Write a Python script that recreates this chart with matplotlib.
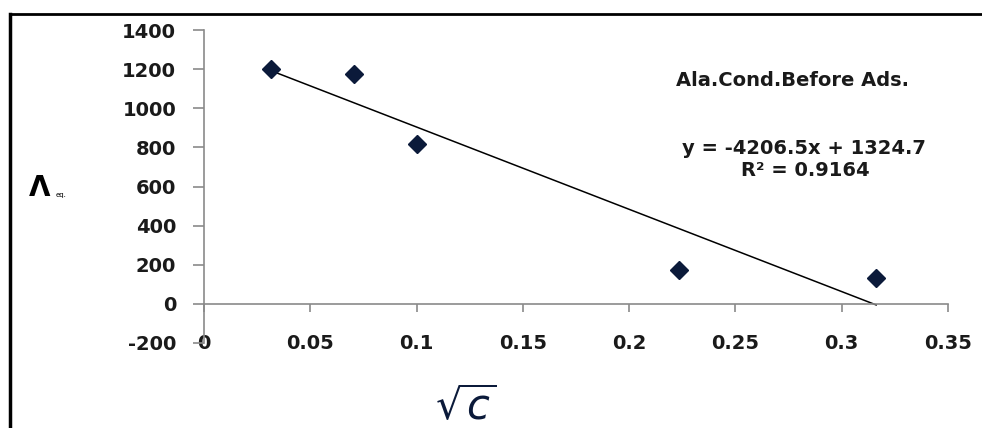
import numpy as np
import matplotlib
matplotlib.use("Agg")
import matplotlib.pyplot as plt
from matplotlib.lines import Line2D

plt.rcParams['font.family'] = ['DejaVu Sans']
plt.rcParams['axes.unicode_minus'] = False

# sqrt of concentration and equivalent conductance
sqrt_c = [0.0316, 0.0707, 0.1, 0.2236, 0.3162]
lam_eq = [1200, 1175, 815, 175, 130]

slope = -4206.5
intercept = 1324.7
r2 = 0.9164

x_ticks = [0, 0.05, 0.1, 0.15, 0.2, 0.25, 0.3, 0.35]
x_labels = ['0', '0.05', '0.1', '0.15', '0.2', '0.25', '0.3', '0.35']
y_ticks = [-200, 0, 200, 400, 600, 800, 1000, 1200, 1400]

fig = plt.figure(figsize=(9.82, 4.28), dpi=100)
ax = fig.add_axes([0.2077, 0.1986, 0.7577, 0.7313])

ax.plot(sqrt_c, lam_eq, linestyle='none', marker='D', markersize=9,
        color='#0b1a3a', zorder=3)

xs = np.array([sqrt_c[0], sqrt_c[-1]])
ax.plot(xs, slope * xs + intercept, color='black', linewidth=1.1, zorder=2)

ax.set_xlim(0, 0.35)
ax.set_ylim(-200, 1400)
ax.set_xticks(x_ticks)
ax.set_xticklabels(x_labels)
ax.set_yticks(y_ticks)

ax.spines['top'].set_visible(False)
ax.spines['right'].set_visible(False)
ax.spines['bottom'].set_position(('data', 0))
for s in ('left', 'bottom'):
    ax.spines[s].set_color('#8a8a8a')
    ax.spines[s].set_linewidth(1.2)

ax.tick_params(axis='x', direction='out', length=6, width=1.2, color='#8a8a8a',
               pad=16, labelsize=14, labelcolor='#1a1a1a')
ax.tick_params(axis='y', direction='out', length=8, width=1.2, color='#8a8a8a',
               pad=12, labelsize=14, labelcolor='#1a1a1a')
for lab in ax.get_xticklabels() + ax.get_yticklabels():
    lab.set_fontweight('bold')

txt = dict(ha='center', va='center', fontsize=14, fontweight='bold', color='#1a1a1a')
fig.text(792 / 982, 1 - 80 / 428, 'Ala.Cond.Before Ads.', **txt)
fig.text(804 / 982, 1 - 149 / 428, f'y = {slope}x + {intercept}', **txt)
fig.text(805 / 982, 1 - 171 / 428, f'R² = {r2}', **txt)

# axis titles
fig.text(40 / 982, 1 - 188 / 428, 'Λ', ha='center', va='center',
         fontsize=20, fontweight='bold', color='black')
fig.text(61 / 982, 1 - 195 / 428, 'eq.', ha='center', va='center',
         fontsize=5, color='black')
fig.text(466 / 982, 1 - 408 / 428, r'$\sqrt{c}$', ha='center', va='center',
         fontsize=30, color='#0b1a3a')

# outer frame lines (top and left)
fig.add_artist(Line2D([10 / 982, 1], [1 - 14 / 428, 1 - 14 / 428],
                      color='black', linewidth=2, transform=fig.transFigure))
fig.add_artist(Line2D([10 / 982, 10 / 982], [1 - 14 / 428, 0],
                      color='black', linewidth=2.5, transform=fig.transFigure))

fig.savefig('out.png', dpi=100)
